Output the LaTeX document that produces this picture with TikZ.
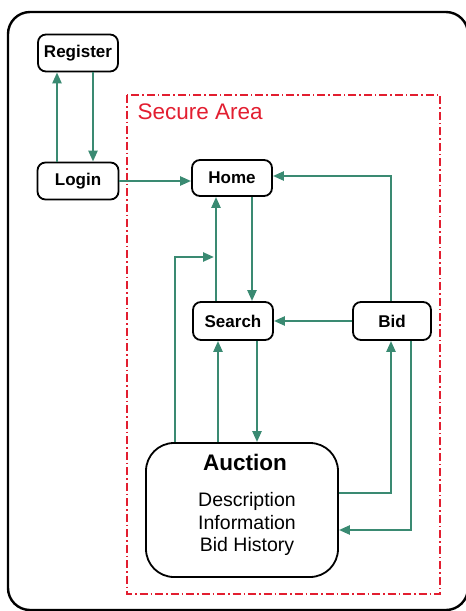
\documentclass[tikz,border=0pt]{standalone}
\usepackage{fontspec}
\setmainfont{Liberation Sans}
\usetikzlibrary{arrows.meta,calc}
\definecolor{flow}{RGB}{58,138,114}
\definecolor{secure}{RGB}{226,30,48}
\tikzset{
  pagebox/.style={draw=black, line width=1.8pt, rounded corners=8pt, fill=white,
    inner sep=0pt, font=\fontsize{17}{19}\selectfont\bfseries},
  bigbox/.style={draw=black, line width=1.8pt, rounded corners=28pt, fill=white,
    minimum width=192pt, minimum height=134pt, inner sep=0pt},
  arr/.style={draw=flow, line width=2.4pt,
    -{Triangle[length=11pt,width=9pt]}},
  zone/.style={draw=secure, line width=1.8pt,
    dash pattern=on 8pt off 3pt on 1.5pt off 3pt},
}
\begin{document}
\begin{tikzpicture}[x=1pt,y=-1pt]
  \useasboundingbox (0,0) rectangle (466,611);
  % outer frame
  \draw[line width=2.4pt, rounded corners=22pt] (8,12) rectangle (468,610);
  % secure area
  \draw[zone] (127,95) rectangle (440,594);
  \node[text=secure, anchor=west, font=\fontsize{22.5}{24}\selectfont] (zonelabel) at (134,112) {Secure Area};

  % pages
  \node[pagebox, minimum width=80pt, minimum height=37pt] (register) at (78,53) {Register};
  \node[pagebox, minimum width=81pt, minimum height=37pt] (login) at (78,181) {Login};
  \node[pagebox, minimum width=80pt, minimum height=36pt] (home) at (232,178) {Home};
  \node[pagebox, minimum width=80pt, minimum height=38pt] (search) at (233,321) {Search};
  \node[pagebox, minimum width=78pt, minimum height=38pt] (bid) at (392,321) {Bid};
  \node[bigbox] (auction) at (242,510) {};
  \node[font=\fontsize{22.5}{24}\selectfont\bfseries] (auctitle) at (245,462) {Auction};
  \node[align=center, font=\fontsize{19.5}{22.5}\selectfont] (aucbody) at (247,524)
    {Description\\Information\\Bid History};

  % junction on the Search-Home link
  \coordinate (j) at (214,257);

  % connectors
  \draw[arr] ([xshift=-21]login.north) -- ([xshift=-21]register.south);
  \draw[arr] ([xshift=15]register.south) -- ([xshift=15]login.north);
  \draw[arr] (login.east) -- (login.east -| home.west);
  \draw[arr] ([xshift=-17]search.north) -- ([xshift=-17]search.north |- home.south);
  \draw[arr] ([xshift=20]home.south) -- ([xshift=20]home.south |- search.north);
  \draw[arr] ([xshift=-1]bid.north) |- ([yshift=2]home.east);
  \draw[arr] (bid.west) -- (search.east);
  \draw[arr] ([xshift=-67]auction.north) |- (j);
  \draw[arr] ([xshift=-15]search.south |- auction.north) -- ([xshift=-15]search.south);
  \draw[arr] ([xshift=24]search.south) -- ([xshift=24]search.south |- auction.north);
  \draw[arr] ([yshift=17]auction.east) -| ([xshift=-1]bid.south);
  \draw[arr] ([xshift=19]bid.south) |- ([yshift=-20]auction.east);
\end{tikzpicture}
\end{document}
